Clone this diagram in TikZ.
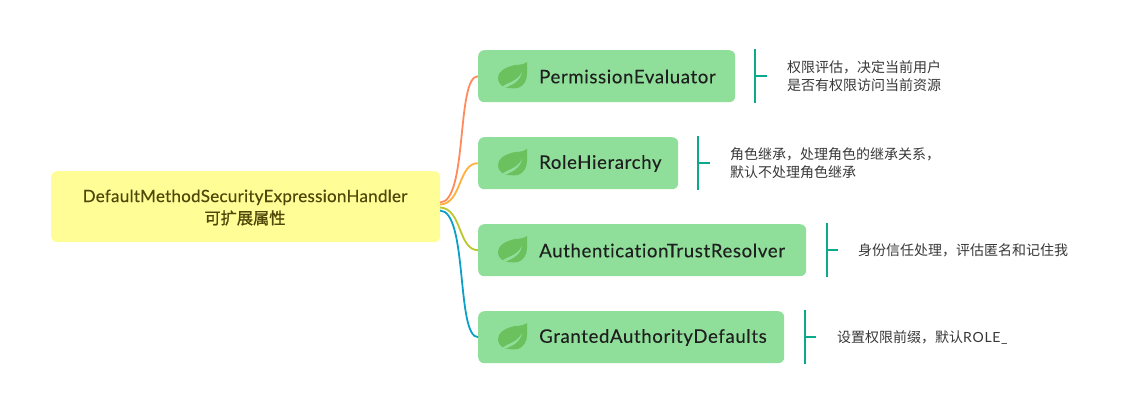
\documentclass[tikz,border=0pt]{standalone}
\usepackage{fontspec}
\setmainfont{Lato}[Ligatures=NoCommon]
\newfontfamily\labelfont{Lato}[LetterSpace=3.4,FakeBold=0.15,Ligatures=NoCommon]
\newfontfamily\rootfont{Lato}[LetterSpace=1.5,FakeBold=0.25,Ligatures=NoCommon]
\newfontfamily\latinfont{Lato}[LetterSpace=5,Ligatures=NoCommon]
\newfontfamily\cjk{Noto Sans CJK SC}
\newfontfamily\cjkmed{Noto Sans CJK SC}[FakeBold=1.2]
\definecolor{rootfill}{HTML}{FFFD96}
\definecolor{roottext}{HTML}{4D4708}
\definecolor{boxfill}{HTML}{8FDF9A}
\definecolor{leafc}{HTML}{6BC15D}
\definecolor{teal}{HTML}{0BAA8C}
\definecolor{cA}{HTML}{FF8A5C}
\definecolor{cB}{HTML}{FFB03B}
\definecolor{cC}{HTML}{BCC72E}
\definecolor{cD}{HTML}{0AA0C8}
\tikzset{
  rootbox/.style={fill=rootfill,rounded corners=6pt,anchor=north west,inner sep=0pt,minimum width=389pt,minimum height=71pt},
  greenbox/.style={fill=boxfill,rounded corners=6pt,anchor=north west,inner sep=0pt,minimum height=52pt},
  boxlabel/.style={anchor=west,inner sep=0pt,text=black!88,font=\fontsize{18.6}{22}\labelfont},
  desc/.style={anchor=west,inner sep=0pt,align=left,text=black!78,font=\fontsize{14}{18}\selectfont\cjk},
  link/.style={line width=1.8pt},
  bracket/.style={draw=teal,line width=2pt},
  pics/leaf/.style={code={
    \fill[leafc] (29,-13) .. controls (24,-9) and (18,-11) .. (13,-9) .. controls (6,-7) and (0,-3) .. (0,3)
      .. controls (0,6) and (1,8) .. (3,10) .. controls (5,13) and (15,14) .. (20,13) .. controls (26,11) and (29,5) .. (29,-1) .. controls (29,-5) and (29,-9) .. (29,-13) -- cycle;
    \fill[boxfill] (4,12) .. controls (10,7) and (19,7) .. (24,-3) .. controls (22,7) and (13,10) .. (9,12) -- cycle;
  }}
}
\begin{document}
\begin{tikzpicture}[x=1pt,y=-1pt]
\useasboundingbox (0,0) rectangle (1131,413);
\node[rootbox] (root) at (51,171) {};
\node[align=center,inner sep=0pt,text=roottext,font=\fontsize{17}{22}\rootfont] (roottxt) at (245,207.5) {DefaultMethodSecurityExpressionHandler\\{\fontsize{16.2}{22}\cjkmed 可扩展属性}};

\node[greenbox,minimum width=257pt] (b1) at (478,50) {};
\node[greenbox,minimum width=200pt] (b2) at (478,137) {};
\node[greenbox,minimum width=328pt] (b3) at (478,224) {};
\node[greenbox,minimum width=306pt] (b4) at (478,311) {};

\pic at (498,75) {leaf};
\pic at (498,162) {leaf};
\pic at (498,249) {leaf};
\pic at (498,336) {leaf};

\node[boxlabel] (t1) at (539,76.5) {PermissionEvaluator};
\node[boxlabel] (t2) at (539,163.5) {RoleHierarchy};
\node[boxlabel] (t3) at (539,250.5) {AuthenticationTrustResolver};
\node[boxlabel] (t4) at (539,337.5) {GrantedAuthorityDefaults};

\coordinate (s1) at (440,202.5);
\coordinate (s2) at (440,204.5);
\coordinate (s3) at (440,207.5);
\coordinate (s4) at (440,210.5);
\draw[link,cA] (s1) .. controls (468,202) and (456,76) .. (b1.west);
\draw[link,cB] (s2) .. controls (462,204) and (458,163) .. (b2.west);
\draw[link,cC] (s3) .. controls (462,208) and (458,250) .. (b3.west);
\draw[link,cD] (s4) .. controls (468,211) and (456,337) .. (b4.west);

\coordinate (k1a) at (755,49); \coordinate (k1b) at (755,103); \coordinate (k1c) at (755,76); \coordinate (k1d) at (767,76);
\coordinate (k2a) at (698,136); \coordinate (k2b) at (698,190); \coordinate (k2c) at (698,163); \coordinate (k2d) at (710,163);
\coordinate (k3a) at (826.5,223); \coordinate (k3b) at (826.5,277); \coordinate (k3c) at (826.5,250); \coordinate (k3d) at (838,250);
\coordinate (k4a) at (804.5,310); \coordinate (k4b) at (804.5,364); \coordinate (k4c) at (804.5,337); \coordinate (k4d) at (816,337);
\draw[bracket] (k1a) -- (k1b) (k1c) -- (k1d);
\draw[bracket] (k2a) -- (k2b) (k2c) -- (k2d);
\draw[bracket] (k3a) -- (k3b) (k3c) -- (k3d);
\draw[bracket] (k4a) -- (k4b) (k4c) -- (k4d);

\node[desc] (d1) at (787,76.5) {权限评估，决定当前用户\\是否有权限访问当前资源};
\node[desc] (d2) at (730,163.5) {角色继承，处理角色的继承关系，\\默认不处理角色继承};
\node[desc] (d3) at (858,250.5) {身份信任处理，评估匿名和记住我};
\node[desc] (d4) at (837,337.5) {设置权限前缀，默认{\latinfont ROLE\_}};
\end{tikzpicture}
\end{document}
